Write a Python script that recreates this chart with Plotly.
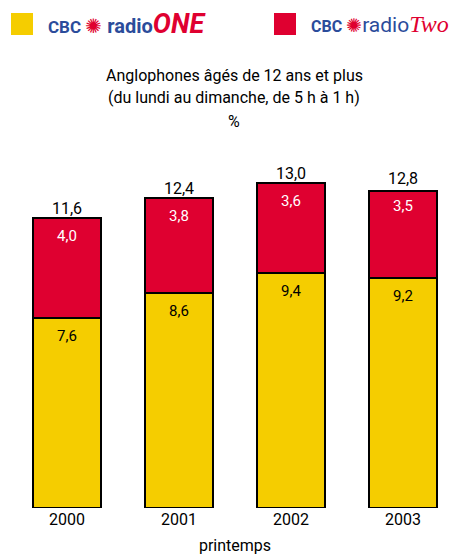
import plotly.graph_objects as go

years = ["2000", "2001", "2002", "2003"]
radio_one = [7.6, 8.6, 9.4, 9.2]
radio_two = [4.0, 3.8, 3.6, 3.5]
totals = [11.6, 12.4, 13.0, 12.8]
title_lines = ["Anglophones âgés de 12 ans et plus", "(du lundi au dimanche, de 5 h à 1 h)", "%"]

def fr(v):
    return f"{v:.1f}".replace(".", ",")

YELLOW = "#F5CD00"
RED = "#DF0030"
BLUE = "#2B4C9B"
FONT = "Roboto, sans-serif"

# page body has an 8px offset; plot area on screen spans x 11..459, y 158..508
def px(xs):
    return (xs - 11) / 448
def py(ys):
    return 1 + (158 - ys) / 350

fig = go.Figure()
fig.add_trace(go.Bar(
    x=years, y=radio_one, name="CBC radio ONE",
    marker=dict(color=YELLOW, line=dict(color="black", width=2)),
    hoverinfo="x+y",
))
fig.add_trace(go.Bar(
    x=years, y=radio_two, name="CBC radio Two",
    marker=dict(color=RED, line=dict(color="black", width=2)),
    hoverinfo="x+y",
))
fig.add_trace(go.Scatter(
    x=years, y=totals, mode="text", text=[fr(t) for t in totals],
    textposition="top center", textfont=dict(size=16, color="black", family=FONT),
    hoverinfo="skip", cliponaxis=False,
))

for i, (a, b, t) in enumerate(zip(radio_one, radio_two, totals)):
    fig.add_annotation(x=i, y=a, text=fr(a), showarrow=False, yanchor="middle", yshift=-18,
                       font=dict(size=15, color="black", family=FONT))
    fig.add_annotation(x=i, y=t, text=fr(b), showarrow=False, yanchor="middle", yshift=-18,
                       font=dict(size=15, color="white", family=FONT))

for line, ys in zip(title_lines, [75, 98, 121]):
    fig.add_annotation(xref="paper", yref="paper", x=px(234), y=py(ys), text=line, showarrow=False,
                       xanchor="center", yanchor="middle", font=dict(size=16, color="black", family=FONT))

# legend
fig.add_shape(type="rect", xref="paper", yref="paper", x0=px(11), x1=px(33), y0=py(35), y1=py(13),
              fillcolor=YELLOW, line=dict(width=0))
fig.add_shape(type="rect", xref="paper", yref="paper", x0=px(274), x1=px(296), y0=py(35), y1=py(13),
              fillcolor=RED, line=dict(width=0))
fig.add_annotation(xref="paper", yref="paper", x=px(46), y=py(24), xanchor="left", yanchor="middle",
                   showarrow=False,
                   text=f"<span style='color:{BLUE};font-size:17px'><b>CBC</b> </span><span style='color:{RED};font-size:20px'>✺</span>"
                        f"<span style='color:{BLUE};font-size:20px'> <b>radio</b></span><span style='color:{RED};font-size:27px'><b><i>ONE</i></b></span>",
                   font=dict(family="Roboto, sans-serif", size=20, color=BLUE))
fig.add_annotation(xref="paper", yref="paper", x=px(309), y=py(24), xanchor="left", yanchor="middle",
                   showarrow=False,
                   text=f"<span style='color:{BLUE};font-size:16px'><b>CBC</b> </span><span style='color:{RED};font-size:19px'>✺</span>"
                        f"<span style='color:{BLUE};font-size:21px'>radio</span><span style='color:{RED};font-family:Liberation Serif;font-size:24px'><i>Two</i></span>",
                   font=dict(family="Roboto, sans-serif", size=20, color=BLUE))

fig.update_layout(
    width=461, height=557,
    margin=dict(l=3, r=10, t=150, b=57),
    barmode="stack", bargap=0.4,
    showlegend=False,
    plot_bgcolor="white", paper_bgcolor="white",
    font=dict(family=FONT, color="black", size=16),
    xaxis=dict(type="category", range=[-0.5, 3.5], showline=False, ticks="", tickfont=dict(size=16),
               title=dict(text="printemps", standoff=11, font=dict(size=16))),
    yaxis=dict(range=[0, 14], visible=False),
)

fig.write_html("out.html")
